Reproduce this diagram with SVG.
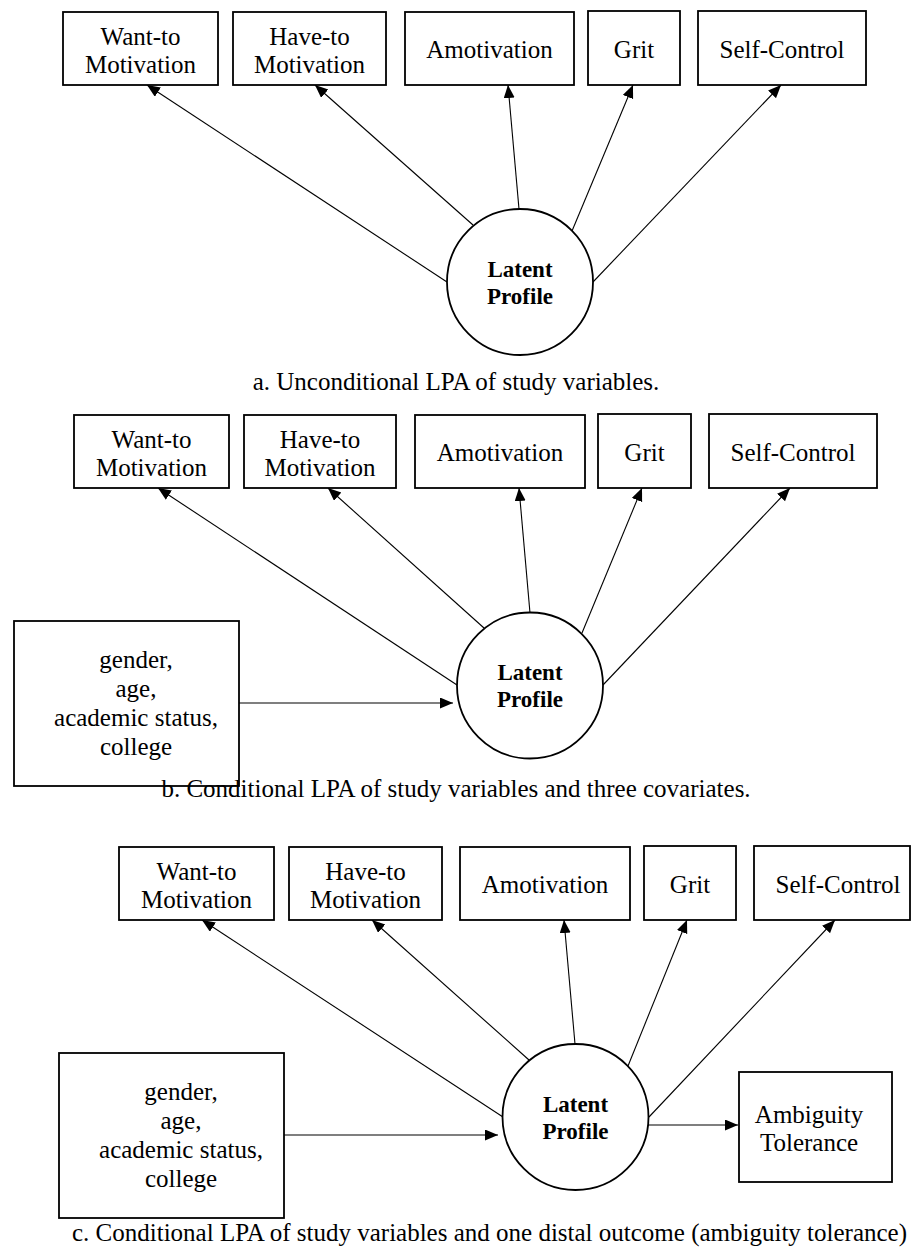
<svg xmlns="http://www.w3.org/2000/svg" width="912" height="1253" viewBox="0 0 912 1253">
<style>
.box{fill:#fff;stroke:#000;stroke-width:1.8}
.circ{fill:#fff;stroke:#000;stroke-width:1.8}
text{font-family:'Liberation Serif','Tinos','Times','Nimbus Roman','DejaVu Serif',serif;fill:#000}
.t{font-size:25px;text-anchor:middle}
.b{font-size:23px;font-weight:bold;text-anchor:middle}
.cap{font-size:25px}
.ln{stroke:#000;stroke-width:1.1;fill:none;marker-end:url(#ah)}
</style>
<defs>
<marker id="ah" markerUnits="userSpaceOnUse" markerWidth="14" markerHeight="12" refX="13" refY="5.5" orient="auto">
<path d="M0,0 L13,5.5 L0,11 z" fill="#000"/>
</marker>
</defs>
<rect width="912" height="1253" fill="#fff"/>

<g id="connectors">
<line class="ln" x1="447" y1="282" x2="147" y2="85"/>
<line class="ln" x1="473" y1="225" x2="315" y2="85"/>
<line class="ln" x1="519" y1="209" x2="508" y2="85"/>
<line class="ln" x1="572" y1="231" x2="633" y2="85"/>
<line class="ln" x1="593" y1="282" x2="781" y2="85"/>

<line class="ln" x1="457" y1="685" x2="158" y2="488"/>
<line class="ln" x1="484" y1="628" x2="328" y2="488"/>
<line class="ln" x1="530" y1="613" x2="519" y2="488"/>
<line class="ln" x1="582" y1="633" x2="642" y2="488"/>
<line class="ln" x1="603" y1="685" x2="790" y2="488"/>
<line class="ln" x1="239" y1="703" x2="453" y2="703"/>

<line class="ln" x1="503" y1="1117" x2="202" y2="920"/>
<line class="ln" x1="529" y1="1060" x2="372" y2="920"/>
<line class="ln" x1="575" y1="1044" x2="564" y2="920"/>
<line class="ln" x1="628" y1="1066" x2="687" y2="920"/>
<line class="ln" x1="649" y1="1117" x2="835" y2="920"/>
<line class="ln" x1="284" y1="1135" x2="498" y2="1135"/>
<line class="ln" x1="648" y1="1125" x2="738" y2="1125"/>
</g>

<g id="a-want"><rect class="box" x="63" y="12" width="155" height="73"/><text class="t" x="140.5" y="45">Want-to</text><text class="t" x="140.5" y="73">Motivation</text></g>
<g id="a-have"><rect class="box" x="233" y="12" width="153" height="73"/><text class="t" x="309.5" y="45">Have-to</text><text class="t" x="309.5" y="73">Motivation</text></g>
<g id="a-amot"><rect class="box" x="405" y="12" width="169" height="73"/><text class="t" x="489.5" y="58">Amotivation</text></g>
<g id="a-grit"><rect class="box" x="588" y="11" width="92" height="74"/><text class="t" x="634" y="58">Grit</text></g>
<g id="a-self"><rect class="box" x="698" y="11" width="168" height="74"/><text class="t" x="782" y="58">Self-Control</text></g>
<g id="a-latent"><circle class="circ" cx="520" cy="282" r="73"/><text class="b" x="520" y="277">Latent</text><text class="b" x="520" y="304">Profile</text></g>
<text class="cap" x="456" y="390" text-anchor="middle">a. Unconditional LPA of study variables.</text>

<g id="b-want"><rect class="box" x="74" y="415" width="155" height="73"/><text class="t" x="151.5" y="448">Want-to</text><text class="t" x="151.5" y="476">Motivation</text></g>
<g id="b-have"><rect class="box" x="244" y="415" width="152" height="73"/><text class="t" x="320" y="448">Have-to</text><text class="t" x="320" y="476">Motivation</text></g>
<g id="b-amot"><rect class="box" x="415" y="415" width="170" height="73"/><text class="t" x="500" y="461">Amotivation</text></g>
<g id="b-grit"><rect class="box" x="598" y="414" width="93" height="74"/><text class="t" x="644.5" y="461">Grit</text></g>
<g id="b-self"><rect class="box" x="709" y="414" width="168" height="74"/><text class="t" x="793" y="461">Self-Control</text></g>
<g id="b-latent"><circle class="circ" cx="530" cy="685.5" r="73"/><text class="b" x="530" y="680">Latent</text><text class="b" x="530" y="707">Profile</text></g>
<g id="b-cov"><rect class="box" x="14" y="621" width="225" height="165"/><text class="t" x="136" y="668">gender,</text><text class="t" x="136" y="697">age,</text><text class="t" x="136" y="726">academic status,</text><text class="t" x="136" y="755">college</text></g>
<text class="cap" x="456" y="797" text-anchor="middle">b. Conditional LPA of study variables and three covariates.</text>

<g id="c-want"><rect class="box" x="119" y="847" width="155" height="73"/><text class="t" x="196.5" y="880">Want-to</text><text class="t" x="196.5" y="908">Motivation</text></g>
<g id="c-have"><rect class="box" x="289" y="847" width="153" height="73"/><text class="t" x="365.5" y="880">Have-to</text><text class="t" x="365.5" y="908">Motivation</text></g>
<g id="c-amot"><rect class="box" x="460" y="847" width="170" height="73"/><text class="t" x="545" y="893">Amotivation</text></g>
<g id="c-grit"><rect class="box" x="644" y="846" width="92" height="74"/><text class="t" x="690" y="893">Grit</text></g>
<g id="c-self"><rect class="box" x="754" y="846" width="156" height="74"/><text class="t" x="838" y="893">Self-Control</text></g>
<g id="c-latent"><circle class="circ" cx="575.5" cy="1117" r="73"/><text class="b" x="575.5" y="1112">Latent</text><text class="b" x="575.5" y="1139">Profile</text></g>
<g id="c-cov"><rect class="box" x="59" y="1053" width="225" height="165"/><text class="t" x="181" y="1100">gender,</text><text class="t" x="181" y="1129">age,</text><text class="t" x="181" y="1158">academic status,</text><text class="t" x="181" y="1187">college</text></g>
<g id="c-amb"><rect class="box" x="739" y="1072" width="153" height="110"/><text class="t" x="809" y="1123">Ambiguity</text><text class="t" x="809" y="1151">Tolerance</text></g>
<text class="cap" x="72" y="1241">c. Conditional LPA of study variables and one distal outcome (ambiguity tolerance)</text>
</svg>
